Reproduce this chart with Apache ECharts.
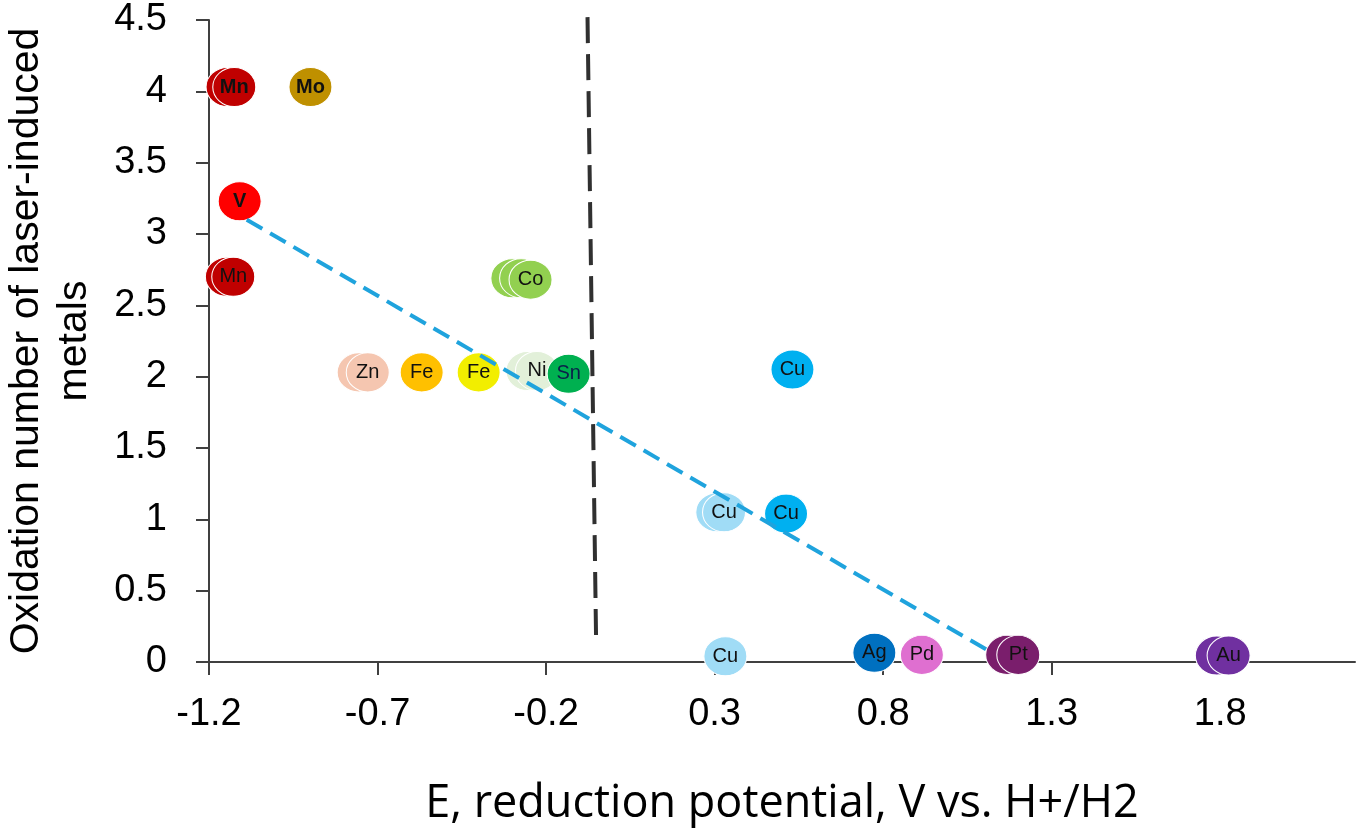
<!DOCTYPE html>
<html><head><meta charset="utf-8">
<script src="https://cdn.jsdelivr.net/npm/echarts@6/dist/echarts.min.js"></script>
<style>html,body{margin:0;padding:0;background:#fff}#c{width:1359px;height:835px}</style>
</head><body><div id="c"></div>
<script>
// ---- data ----
const xTickValues = [-1.2, -0.7, -0.2, 0.3, 0.8, 1.3, 1.8];
const pointLabels = ['', 'Mn', 'Mo', 'V', '', 'Mn', '', '', 'Co', '', 'Zn', 'Fe', 'Fe', '', 'Ni', 'Sn', 'Cu', '', 'Cu', 'Cu', 'Cu', 'Ag', 'Pd', '', 'Pt', '', 'Au'];
const pointGroups = ['Mn','Mn','Mo','V','Mn','Mn','Co','Co','Co','Zn','Zn','FeA','FeB','Ni','Ni','Sn','CuA','CuB','CuB','CuA','CuB','Ag','Pd','Pt','Pt','Au','Au'];
const potentials = [-1.145,-1.125,-0.899,-1.109,-1.147,-1.128,-0.300,-0.274,-0.246,-0.756,-0.729,-0.569,-0.400,-0.255,-0.227,-0.133,0.531,0.308,0.328,0.512,0.332,0.774,0.915,1.168,1.201,1.790,1.825];
const oxidation = [4.03,4.03,4.03,3.23,2.70,2.70,2.69,2.69,2.68,2.03,2.03,2.03,2.03,2.04,2.04,2.02,2.05,1.05,1.05,1.04,0.04,0.065,0.05,0.05,0.05,0.045,0.045];
const trendX = [-1.088, 1.109];
const trendY = [3.10, 0.084];
const boundaryX = [-0.077, -0.0515];
const boundaryY = [4.52, 0.142];

// ---- styles ----
const palette = {
  Mn: '#C00000', Mo: '#BF9000', V: '#FF0000', Co: '#92D050', Zn: '#F5C6B0',
  FeA: '#FFC000', FeB: '#F2EE00', Ni: '#E2F0D9', Sn: '#00B050',
  CuA: '#00B0F0', CuB: '#A0DCF6', Ag: '#0070C0', Pd: '#DF6FD0', Pt: '#7A1E6C', Au: '#7030A0'
};
const boldIndex = new Set([1, 2, 3]);
const labelColors = { Sn: '#0B1F4A' };
const ellipse = 'path://M0,1A1,1 0 1,0 2,1A1,1 0 1,0 0,1Z';

const scatterData = potentials.map((x, i) => ({
  value: [x, oxidation[i]],
  itemStyle: { color: palette[pointGroups[i]] },
  label: {
    show: pointLabels[i] !== '',
    formatter: pointLabels[i],
    fontWeight: boldIndex.has(i) ? 'bold' : 'normal',
    fontSize: 20,
    fontFamily: 'Liberation Sans',
    color: labelColors[pointGroups[i]] || '#111'
  }
}));

const chart = echarts.init(document.getElementById('c'), null, { renderer: 'canvas' });
chart.setOption({
  animation: false,
  backgroundColor: '#fff',
  grid: { left: 209, right: 4, top: 20, bottom: 173, containLabel: false, outerBoundsMode: 'none' },
  xAxis: {
    type: 'value', min: -1.2, max: 2.2,
    name: 'E, reduction potential, V vs. H+/H2',
    nameLocation: 'middle', nameGap: 116,
    nameTextStyle: { fontFamily: 'Open Sans', fontSize: 45, color: '#000', lineHeight: 52 },
    axisLine: { onZero: false, lineStyle: { color: '#404040', width: 2 } },
    axisTick: { show: true, length: 13, lineStyle: { color: '#404040', width: 2 }, customValues: xTickValues },
    axisLabel: { customValues: xTickValues, margin: 34, fontFamily: 'Liberation Sans', fontSize: 38, lineHeight: 38, color: '#000' },
    splitLine: { show: false }
  },
  yAxis: {
    type: 'value', min: 0, max: 4.5, interval: 0.5,
    name: 'Oxidation number of laser-induced\nmetals',
    nameLocation: 'middle', nameGap: 110, nameRotate: 90,
    nameTextStyle: { fontFamily: 'Liberation Sans', fontSize: 41, color: '#000', lineHeight: 48, align: 'center' },
    axisLine: { show: true, onZero: false, lineStyle: { color: '#404040', width: 2 } },
    axisTick: { show: true, length: 13, lineStyle: { color: '#404040', width: 2 } },
    axisLabel: { margin: 42, fontFamily: 'Liberation Sans', fontSize: 38, color: '#000' },
    splitLine: { show: false }
  },
  series: [
    {
      type: 'scatter',
      symbol: ellipse,
      symbolSize: [43, 39],
      symbolKeepAspect: false,
      itemStyle: { borderColor: '#ffffff', borderWidth: 1, opacity: 1 },
      label: { show: true, position: 'inside', fontFamily: 'Liberation Sans', fontSize: 20 },
      emphasis: { disabled: true },
      data: scatterData,
      z: 2
    },
    {
      type: 'line',
      data: trendX.map((x, i) => [x, trendY[i]]),
      showSymbol: false, symbol: 'none',
      lineStyle: { color: '#1FA3DD', width: 4, type: [18, 9] },
      silent: true, z: 5
    },
    {
      type: 'line',
      data: boundaryX.map((x, i) => [x, boundaryY[i]]),
      showSymbol: false, symbol: 'none', clip: false,
      lineStyle: { color: '#303030', width: 4, type: [26, 11] },
      silent: true, z: 4
    }
  ]
});
</script>
</body></html>
